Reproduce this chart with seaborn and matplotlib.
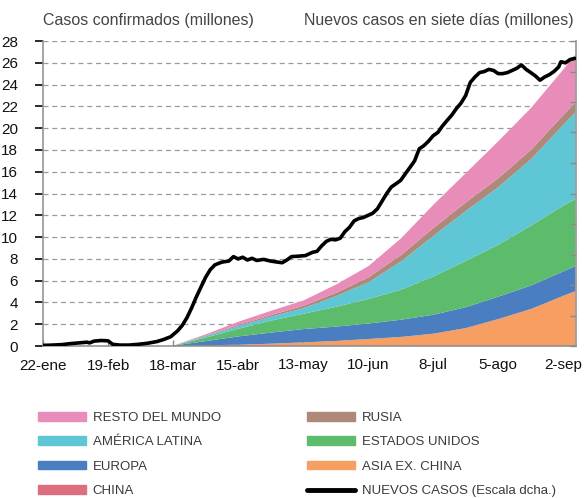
import matplotlib
matplotlib.use("Agg")
import matplotlib.pyplot as plt
import matplotlib.patches as mpatches
import matplotlib.lines as mlines
import numpy as np
import pandas as pd
import seaborn as sns

# ---- data -------------------------------------------------------------
start = pd.Timestamp("2020-01-22")

# confirmed cases by region (millions), days since 22 Jan
area_days = [56, 70, 84, 98, 112, 126, 140, 154, 168, 182, 196, 210, 224, 229]
china = [0.08] * 14
asia_ex_china = [0.0, 0.04, 0.08, 0.18, 0.30, 0.43, 0.61, 0.80, 1.10, 1.62, 2.45, 3.37, 4.59, 5.00]
europa = [0.0, 0.38, 0.77, 1.02, 1.22, 1.32, 1.42, 1.58, 1.74, 1.92, 2.06, 2.16, 2.24, 2.30]
estados_unidos = [0.0, 0.33, 0.70, 1.10, 1.41, 1.81, 2.26, 2.75, 3.52, 4.25, 4.77, 5.50, 6.05, 6.15]
america_latina = [0.0, 0.13, 0.25, 0.35, 0.52, 0.98, 1.53, 2.60, 3.73, 4.60, 5.30, 6.10, 7.42, 7.95]
rusia = [0.0, 0.05, 0.10, 0.15, 0.21, 0.31, 0.45, 0.60, 0.72, 0.78, 0.82, 0.86, 0.90, 0.92]
resto_mundo = [0.0, 0.12, 0.30, 0.40, 0.49, 0.76, 1.04, 1.53, 2.15, 2.70, 3.40, 3.85, 4.20, 4.40]

# new cases over the previous seven days (millions), days since 22 Jan
line_days = [0, 4, 8, 12, 16, 19, 20, 22, 25, 28, 30, 33, 37, 41, 45, 49, 52, 55, 58, 60,
             62, 64, 66, 68, 70, 72, 74, 77, 80, 82, 84, 86, 88, 90, 92, 95, 98, 101, 103, 105,
             107, 110, 113, 116, 118, 120, 122, 124, 126, 128, 130, 132, 134, 136, 138, 140, 142,
             144, 146, 148, 150, 152, 154, 156, 158, 160, 162, 164, 166, 168, 170, 172, 174, 176,
             178, 180, 182, 184, 186, 188, 190, 192, 194, 196, 198, 200, 202, 204, 206, 208, 210,
             212, 214, 216, 218, 220, 222, 223, 225, 227, 229]
nuevos_casos = [0.004, 0.006, 0.009, 0.016, 0.021, 0.025, 0.020, 0.032, 0.036, 0.034, 0.011,
                0.006, 0.006, 0.011, 0.018, 0.029, 0.043, 0.061, 0.100, 0.136, 0.186, 0.250,
                0.321, 0.386, 0.450, 0.500, 0.532, 0.550, 0.557, 0.586, 0.571, 0.582, 0.564,
                0.575, 0.561, 0.568, 0.557, 0.550, 0.546, 0.564, 0.586, 0.589, 0.593, 0.614,
                0.621, 0.657, 0.686, 0.700, 0.696, 0.707, 0.750, 0.779, 0.821, 0.836, 0.843,
                0.857, 0.871, 0.900, 0.950, 1.000, 1.043, 1.064, 1.086, 1.129, 1.171, 1.214,
                1.293, 1.314, 1.343, 1.379, 1.400, 1.443, 1.479, 1.514, 1.557, 1.593, 1.643,
                1.729, 1.764, 1.793, 1.800, 1.814, 1.807, 1.786, 1.786, 1.793, 1.807, 1.821,
                1.843, 1.814, 1.793, 1.771, 1.743, 1.764, 1.779, 1.800, 1.829, 1.864, 1.857,
                1.879, 1.886]

layer_names = ["CHINA", "ASIA EX. CHINA", "EUROPA", "ESTADOS UNIDOS",
               "AMÉRICA LATINA", "RUSIA", "RESTO DEL MUNDO"]
layer_colors = ["#DC6E7E", "#F79E62", "#4A7EC0", "#5DBB6C",
                "#5FC6D5", "#AE8878", "#E88CB9"]

tick_days = [0, 28, 56, 84, 112, 140, 168, 196, 224]
tick_labels = ["22-ene", "19-feb", "18-mar", "15-abr", "13-may",
               "10-jun", "8-jul", "5-ago", "2-sep"]

# ---- figure -----------------------------------------------------------
sns.set_theme(style="white")
plt.rcParams["font.family"] = ["Liberation Sans", "DejaVu Sans"]

fig = plt.figure(figsize=(5.85, 4.98), dpi=100)
ax = fig.add_axes([43 / 585, 1 - 346 / 498, (576 - 43) / 585, (346 - 41) / 498])

area_dates = start + pd.to_timedelta(area_days, unit="D")
ax.stackplot(area_dates,
             china, asia_ex_china, europa, estados_unidos,
             america_latina, rusia, resto_mundo,
             colors=layer_colors, linewidth=0, zorder=2)

ax.set_xlim(start, start + pd.Timedelta(days=229.5))
ax.set_ylim(0, 28)
ax.set_yticks(np.arange(0, 29, 2))
ax.set_xticks(start + pd.to_timedelta(tick_days, unit="D"))
ax.set_xticklabels(tick_labels)
ax.yaxis.grid(True, color="#9a9a9a", linestyle=(0, (4, 3)), linewidth=0.9, zorder=1)
ax.set_axisbelow(True)

for side in ["left", "bottom", "right"]:
    ax.spines[side].set_color("#8c8c8c")
    ax.spines[side].set_linewidth(1.1)
ax.spines["top"].set_visible(False)
ax.tick_params(axis="y", left=False, labelsize=11, pad=12, colors="#111111")
ax.tick_params(axis="x", bottom=True, direction="in", length=4, width=1,
               color="#8c8c8c", labelsize=11, pad=9, labelcolor="#111111")

# seven-day new cases on the right-hand scale
ax2 = ax.twinx()
line_df = pd.DataFrame({"fecha": start + pd.to_timedelta(line_days, unit="D"),
                        "nuevos": nuevos_casos})
sns.lineplot(data=line_df, x="fecha", y="nuevos", ax=ax2, color="black",
             linewidth=2.6, zorder=5)
ax2.set_ylim(0, 2.0)
ax2.set_yticks(np.arange(0, 2.01, 0.2))
ax2.set_ylabel("")
ax2.set_xlabel("")
ax.set_xlabel("")
ax2.tick_params(axis="y", right=True, direction="in", length=4, width=1,
                color="#8c8c8c", labelright=False)
for side in ["left", "bottom", "right", "top"]:
    ax2.spines[side].set_visible(False)

fig.text(43 / 585, 1 - 20 / 498, "Casos confirmados (millones)", fontsize=11.5,
         color="#444444", ha="left", va="center")
fig.text(574 / 585, 1 - 20 / 498, "Nuevos casos en siete días (millones)", fontsize=11.5,
         color="#444444", ha="right", va="center")

# legend in two columns
handles = [mpatches.Patch(color=c, label=n) for n, c in zip(layer_names, layer_colors)]
handles.append(mlines.Line2D([], [], color="black", linewidth=3.5,
                             label="NUEVOS CASOS (Escala dcha.)"))
by_name = {h.get_label(): h for h in handles}
col1 = ["RESTO DEL MUNDO", "AMÉRICA LATINA", "EUROPA", "CHINA"]
col2 = ["RUSIA", "ESTADOS UNIDOS", "ASIA EX. CHINA", "NUEVOS CASOS (Escala dcha.)"]
legend_font = {"family": ["Liberation Sans", "DejaVu Sans"], "size": 9.5}
for names, x0 in [(col1, 38 / 585), (col2, 307 / 585)]:
    leg = fig.legend(handles=[by_name[n] for n in names], loc="upper left",
                     bbox_to_anchor=(x0, 1 - 412 / 498), frameon=False,
                     prop=legend_font, handlelength=3.6, handleheight=0.6,
                     handletextpad=0.55, labelspacing=0.935, borderaxespad=0,
                     borderpad=0)
    for t in leg.get_texts():
        t.set_color("#3a3a3a")

fig.savefig("out.png", dpi=100)
